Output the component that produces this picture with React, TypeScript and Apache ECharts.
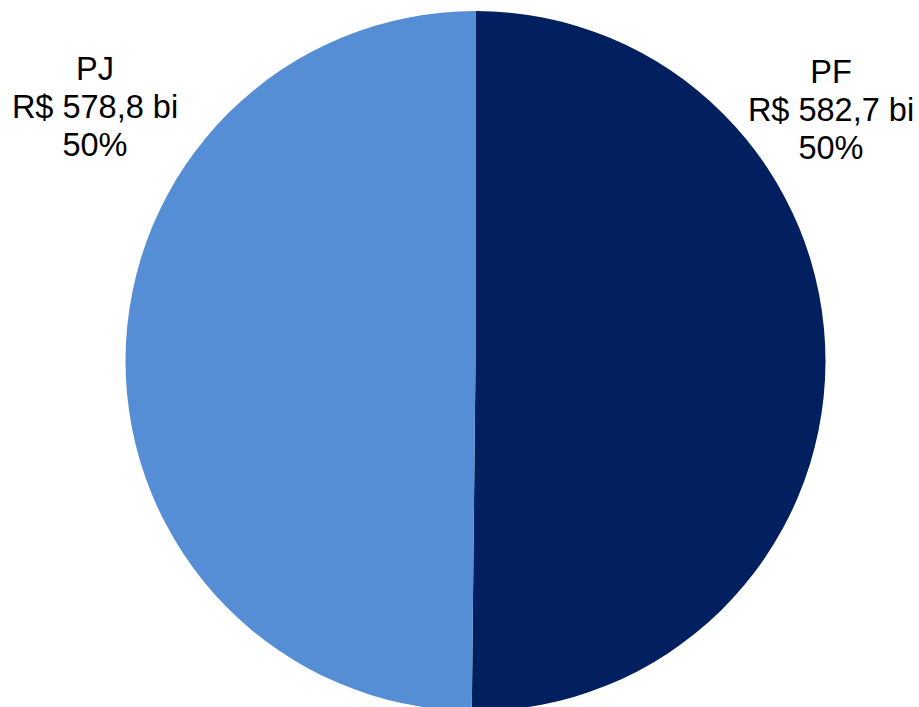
import React, { useEffect, useRef } from "react";
import * as echarts from "echarts";

const categories = ["PF", "PJ"];
const values = [582.7, 578.8];
const colors = ["#022060", "#558ED5"];

const labelPos = [
  { x: 831, y: 110 },
  { x: 95, y: 107 },
];

export default function App() {
  const ref = useRef<HTMLDivElement>(null);
  useEffect(() => {
    if (!ref.current) return;
    const chart = echarts.init(ref.current, null, { renderer: "svg" });
    chart.setOption({
      animation: false,
      backgroundColor: "#ffffff",
      series: [
        {
          type: "pie",
          center: [475.5, 361],
          radius: 350,
          startAngle: 90,
          clockwise: true,
          avoidLabelOverlap: false,
          silent: true,
          data: categories.map((c, i) => ({
            name: c,
            value: values[i],
            itemStyle: { color: colors[i] },
          })),
          label: {
            show: true,
            position: "outside",
            fontFamily: "'Liberation Sans', Arial, sans-serif",
            fontSize: 32.5,
            lineHeight: 38,
            color: "#000000",
            align: "center",
            formatter: (p: any) =>
              `${p.name}\nR$ ${p.value.toFixed(1).replace(".", ",")} bi\n${Math.round(p.percent)}%`,
          },
          labelLine: { show: false },
          labelLayout: (p: any) => ({
            x: labelPos[p.dataIndex].x,
            y: labelPos[p.dataIndex].y,
            align: "center",
            verticalAlign: "middle",
          }),
        },
      ],
    });
    return () => chart.dispose();
  }, []);
  return (
    <div
      ref={ref}
      style={{ position: "absolute", left: 0, top: 0, width: 919, height: 707 }}
    />
  );
}
